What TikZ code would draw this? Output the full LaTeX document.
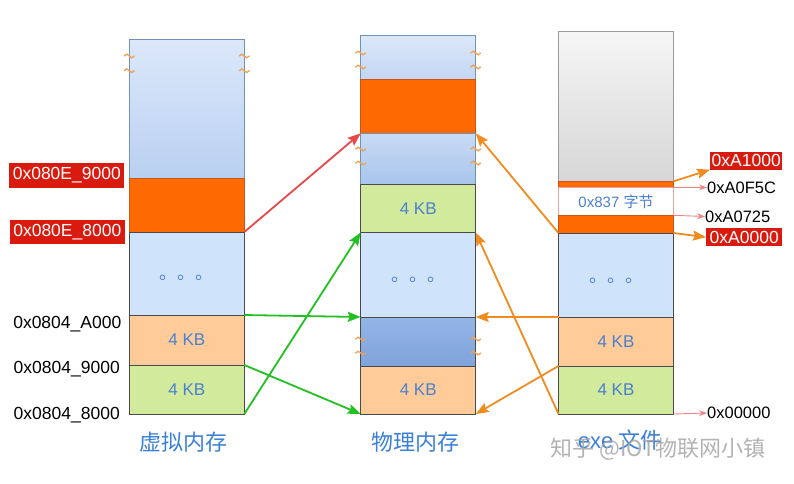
\documentclass[tikz,border=0pt]{standalone}
\usepackage{fontspec}
\setmainfont{Liberation Sans}
\newfontfamily\cjk{Noto Sans CJK SC}
\usepackage{xcolor}
\usetikzlibrary{positioning,arrows.meta}

\definecolor{segorange}{HTML}{FF6A00}
\definecolor{orline}{HTML}{C9541C}
\definecolor{seglblue}{HTML}{CFE4FB}
\definecolor{segpeach}{HTML}{FFCC99}
\definecolor{seggreen}{HTML}{D2EA9C}
\definecolor{hiline}{HTML}{7191B8}
\definecolor{segline}{HTML}{4A4A4A}
\definecolor{addrred}{HTML}{D81B0E}
\definecolor{kbblue}{HTML}{4A80D0}
\definecolor{namblue}{HTML}{3A80D8}
\definecolor{mapred}{HTML}{E84848}
\definecolor{mapgreen}{HTML}{22C022}
\definecolor{maporange}{HTML}{F08C1E}
\definecolor{ptrpink}{HTML}{EE8585}
\definecolor{tildeorange}{HTML}{F0A050}
\definecolor{vtop}{HTML}{DCE8FA}
\definecolor{vbot}{HTML}{B9D0F1}
\definecolor{p1bot}{HTML}{C3D6F3}
\definecolor{ptop}{HTML}{C8DBF5}
\definecolor{pbot}{HTML}{A9C5EC}
\definecolor{dtop}{HTML}{94B5E6}
\definecolor{dbot}{HTML}{7FA3DB}
\definecolor{gtop}{HTML}{F6F6F6}
\definecolor{gbot}{HTML}{D6D6D6}
\definecolor{gline}{HTML}{9A9A9A}
\definecolor{wline}{HTML}{F0A0A0}

\begin{document}
\begin{tikzpicture}[x=1pt, y=-1pt,
    seg/.style={draw=segline, line width=0.7pt, minimum width=115pt, inner sep=0pt, outer sep=0pt,
        text=kbblue, font=\fontsize{17}{17}\selectfont},
    hiseg/.style 2 args={seg, draw=hiline, top color=#1, bottom color=#2},
    orseg/.style={seg, draw=orline, fill=segorange},
    addr/.style={anchor=east, inner sep=0pt, font=\fontsize{17.5}{17.5}\selectfont},
    redaddr/.style={fill=addrred, text=white, inner sep=0pt, font=\fontsize{17.5}{17.5}\selectfont},
    offs/.style={anchor=west, inner sep=0pt, font=\fontsize{16.5}{16.5}\selectfont},
    dotrow/.style={text=kbblue, font=\cjk\fontsize{18}{18}\selectfont, inner sep=0pt},
    colname/.style={text=namblue, font=\cjk\fontsize{22}{22}\selectfont},
    map/.style={line width=1.8pt, -{Stealth[length=13pt, width=10pt, inset=2pt]}},
    ptr/.style={line width=0.9pt, draw=ptrpink, -{Stealth[length=8pt, width=6pt]}},
    tld/.pic={\draw[tildeorange, line width=1.3pt, line cap=round] (-5,0) sin (-2.5,-1.8) cos (0,0) sin (2.5,1.8) cos (5,0);}
]
\useasboundingbox (0,0) rectangle (794,483);

% virtual memory
\node[hiseg={vtop}{vbot}, minimum height=139pt, anchor=north] (v1) at (186.8,39) {};
\node[orseg, minimum height=54pt, below=0pt of v1] (v2) {};
\node[seg, fill=seglblue, minimum height=83pt, below=0pt of v2] (v3) {};
\node[seg, fill=segpeach, minimum height=50pt, below=0pt of v3] (v4) {4 KB};
\node[seg, fill=seggreen, minimum height=49pt, below=0pt of v4] (v5) {4 KB};

% physical memory
\node[hiseg={vtop}{p1bot}, minimum height=44pt, anchor=north] (p1) at (418.2,35.3) {};
\node[orseg, minimum height=54pt, below=0pt of p1] (p2) {};
\node[hiseg={ptop}{pbot}, minimum height=50.7pt, below=0pt of p2] (p3) {};
\node[seg, fill=seggreen, minimum height=48.5pt, below=0pt of p3] (p4) {4 KB};
\node[seg, fill=seglblue, minimum height=84.5pt, below=0pt of p4] (p5) {};
\node[seg, top color=dtop, bottom color=dbot, minimum height=49pt, below=0pt of p5] (p6) {};
\node[seg, fill=segpeach, minimum height=48pt, below=0pt of p6] (p7) {4 KB};

% exe file
\node[seg, draw=gline, line width=1.2pt, top color=gtop, bottom color=gbot, minimum height=149.6pt, anchor=north] (e1) at (616,31.7) {};
\node[orseg, minimum height=6pt, below=0pt of e1] (e2) {};
\node[seg, draw=wline, fill=white, minimum height=28pt, font=\fontsize{15}{15}\selectfont, below=0pt of e2] (e3) {0x837 {\cjk 字节}};
\node[orseg, minimum height=17.7pt, below=0pt of e3] (e4) {};
\node[seg, fill=seglblue, minimum height=84pt, below=0pt of e4] (e5) {};
\node[seg, fill=segpeach, minimum height=49pt, below=0pt of e5] (e6) {4 KB};
\node[seg, fill=seggreen, minimum height=48pt, below=0pt of e6] (e7) {4 KB};

% tildes on the cut edges
\foreach \yy in {56,70.7} {
    \pic at (v1.west |- 0,\yy) {tld};
    \pic at (v1.east |- 0,\yy) {tld};
}
\foreach \yy in {53,67,149,163,339,353} {
    \pic at (p1.west |- 0,\yy) {tld};
    \pic at (p1.east |- 0,\yy) {tld};
}

% dots
\node[dotrow, yshift=-4pt] (vd) at (v3) {。。。};
\node[dotrow, yshift=-5pt] (pd) at (p5) {。。。};
\node[dotrow, yshift=-6pt] (ed) at (e5) {。。。};

% addresses, virtual side
\node[redaddr, minimum width=115pt, minimum height=24.5pt, anchor=east] (l1) at (124.5,175.5) {0x080E\_9000};
\node[redaddr, minimum width=115pt, minimum height=24pt, anchor=east] (l2) at (125,232) {0x080E\_8000};
\node[addr] (l3) at (121.5,324) {0x0804\_A000};
\node[addr] (l4) at (120,369) {0x0804\_9000};
\node[addr] (l5) at (120,415) {0x0804\_8000};

% offsets, file side
\node[redaddr, minimum width=72pt, minimum height=18pt, anchor=west] (a1) at (710,160.5) {0xA1000};
\node[offs] (a2) at (707,187.5) {0xA0F5C};
\node[offs] (a3) at (705,216.5) {0xA0725};
\node[redaddr, minimum width=76pt, minimum height=18pt, anchor=west] (a4) at (706,237.2) {0xA0000};
\node[offs] (a5) at (707,413) {0x00000};

% mappings
\draw[map, draw=mapred, fill=mapred] (v2.south east) -- (p2.south west);
\draw[map, draw=mapgreen, fill=mapgreen] (v3.south east) -- (p5.south west);
\draw[map, draw=mapgreen, fill=mapgreen] (v4.south east) -- (p7.south west);
\draw[map, draw=mapgreen, fill=mapgreen] (v5.south east) -- (p4.south west);
\draw[map, draw=maporange, fill=maporange] (e4.south west) -- (p2.south east);
\draw[map, draw=maporange, fill=maporange] (e5.south west) -- (p5.south east);
\draw[map, draw=maporange, fill=maporange] (e6.south west) -- (p7.south east);
\draw[map, draw=maporange, fill=maporange] (e7.south west) -- (p4.south east);
\draw[map, draw=maporange, fill=maporange] (e2.north east) -- (a1.south west);
\draw[map, draw=maporange, fill=maporange] (e4.south east) -- (a4.west);
\draw[ptr] (e2.south east) -- (a2.west);
\draw[ptr] (e3.south east) -- (a3.west);
\draw[ptr] (e7.south east) -- (a5.west);

% column names
\node[colname, below=14pt of v5, xshift=-3pt] (vname) {虚拟内存};
\node[colname, below=14pt of p7, xshift=-3pt] (pname) {物理内存};
\node[colname, below=12pt of e7, xshift=4pt] (ename) {{\fontspec{Liberation Sans}exe} 文件};
\node[text=black!35, opacity=0.85, font=\cjk\fontsize{22}{22}\selectfont] (wm) at (658,449) {知乎 @IOT物联网小镇};
\end{tikzpicture}
\end{document}
